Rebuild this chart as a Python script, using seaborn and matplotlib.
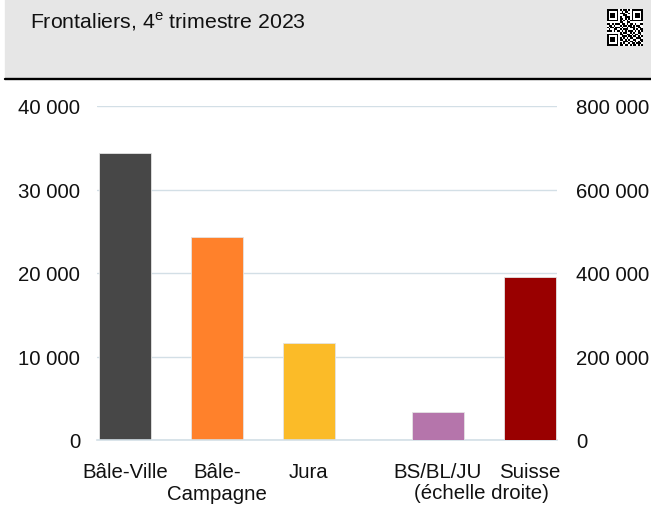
import matplotlib
matplotlib.use("Agg")
import matplotlib.pyplot as plt
import matplotlib.ticker as mticker
from matplotlib.patches import Rectangle
from matplotlib.lines import Line2D
import numpy as np
import pandas as pd
import seaborn as sns

# valeurs
regions_gauche = ["Bâle-Ville", "Bâle-Campagne", "Jura"]
frontaliers_gauche = [34400, 24300, 11600]
regions_droite = ["BS/BL/JU", "Suisse"]
frontaliers_droite = [68000, 389700]
etiquettes_x = ["Bâle-Ville", "Bâle-\nCampagne", "Jura", "BS/BL/JU", "Suisse"]
couleurs = ["#474747", "#FF812B", "#FBBB28", "#B575AB", "#990000"]

# positions des colonnes (petit saut avant l'échelle droite)
positions = [0, 1, 2, 3.4, 4.4]

sns.set_style("white")
plt.rcParams["font.family"] = ["Liberation Sans", "DejaVu Sans"]
plt.rcParams["mathtext.fontset"] = "custom"
plt.rcParams["mathtext.rm"] = "Liberation Sans"

df_g = pd.DataFrame({"pos": positions[:3], "valeur": frontaliers_gauche,
                     "region": regions_gauche})
df_d = pd.DataFrame({"pos": positions[3:], "valeur": frontaliers_droite,
                     "region": regions_droite})

fig = plt.figure(figsize=(6.51, 5.06), dpi=100)

# bandeau titre
fig.patches.append(Rectangle((5 / 651, 1 - 78 / 506), 1, 78 / 506,
                             transform=fig.transFigure, color="#E6E6E6", zorder=-5))
fig.lines.append(Line2D([5 / 651, 1], [1 - 79.5 / 506] * 2, transform=fig.transFigure,
                        color="black", lw=1.7))
fig.text(30 / 651, 1 - 22 / 506, r"Frontaliers, 4$^{\mathrm{e}}$ trimestre 2023",
         fontsize=15.3, va="center", ha="left", color="#111111")

# petit code QR décoratif
qr = [
    "1111111010110101111111",
    "1000001001011001000001",
    "1011101011100101011101",
    "1011101000110001011101",
    "1011101010011101011101",
    "1000001011010101000001",
    "1111111010101011111111",
    "0000000011001100000000",
    "1101011101101011010011",
    "0110100010110110101100",
    "1011011101001011100110",
    "0100110010111000101011",
    "1110101101010111010101",
    "0000000010110010100110",
    "1111111011001101011010",
    "1000001001110110110101",
    "1011101010101011001110",
    "1011101011010100110011",
    "1011101000111011010101",
    "1000001010100101101110",
    "1111111011011010110101",
]
qr_arr = np.array([[int(c) for c in ligne] for ligne in qr])
ax_qr = fig.add_axes([607 / 651, 1 - 47 / 506, 36 / 651, 37 / 506], zorder=5)
ax_qr.imshow(qr_arr, cmap="Greys", vmin=0, vmax=1, aspect="auto",
             interpolation="nearest")
ax_qr.axis("off")

ax = fig.add_axes([97 / 651, 1 - 441 / 506, 460 / 651, 334 / 506])
ax2 = ax.twinx()

sns.barplot(data=df_g, x="pos", y="valeur", hue="region", palette=couleurs[:3],
            hue_order=regions_gauche, native_scale=True, dodge=False, width=0.565,
            saturation=1, edgecolor="#e4e4e4", linewidth=0.6, legend=False, ax=ax)
sns.barplot(data=df_d, x="pos", y="valeur", hue="region", palette=couleurs[3:],
            hue_order=regions_droite, native_scale=True, dodge=False, width=0.565,
            saturation=1, edgecolor="#e4e4e4", linewidth=0.6, legend=False, ax=ax2)

grille = "#D3DFE6"
ax.set_ylim(0, 40000)
ax2.set_ylim(0, 800000)
ax.set_yticks(range(0, 40001, 10000))
ax2.set_yticks(range(0, 800001, 200000))
fmt = mticker.FuncFormatter(lambda v, p: f"{v:,.0f}".replace(",", " "))
ax.yaxis.set_major_formatter(fmt)
ax2.yaxis.set_major_formatter(fmt)

ax.set_xticks(positions)
ax.set_xticklabels(etiquettes_x, linespacing=1.2)
ax.set_xlim(-0.304, 4.696)
ax.set_xlabel("")
ax.set_ylabel("")
ax2.set_ylabel("")

ax.yaxis.grid(True, color=grille, lw=1.0)
ax.set_axisbelow(True)
for a in (ax, ax2):
    for s in a.spines.values():
        s.set_visible(False)
ax.spines["bottom"].set_visible(True)
ax.spines["bottom"].set_color(grille)
ax.spines["bottom"].set_linewidth(1.2)

ax.tick_params(axis="y", length=0, pad=12, labelsize=14.7, labelcolor="#111111")
ax2.tick_params(axis="y", length=0, pad=14, labelsize=14.7, labelcolor="#111111")
ax.tick_params(axis="x", length=0, pad=15.5, labelsize=14.7, labelcolor="#111111")

ax.text(3.87, -0.158, "(échelle droite)", transform=ax.get_xaxis_transform(),
        ha="center", va="center", fontsize=14.7, color="#111111")

fig.savefig("out.png", dpi=100)
plt.close(fig)
